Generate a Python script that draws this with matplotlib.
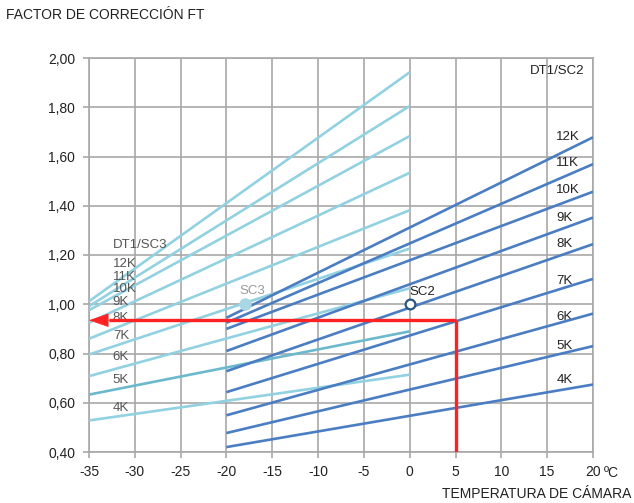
import matplotlib
matplotlib.use("Agg")
import matplotlib.pyplot as plt
from matplotlib.ticker import FuncFormatter

plt.rcParams['font.family'] = ['Liberation Sans Narrow', 'Liberation Sans', 'DejaVu Sans']

# ---- data ----
k_labels = ['4K', '5K', '6K', '7K', '8K', '9K', '10K', '11K', '12K']

# DT1/SC3 (light) lines: from -35 to 0 °C
sc3_x = [-35, 0]
sc3_start = [0.528, 0.633, 0.708, 0.796, 0.860, 0.925, 0.976, 0.992, 1.012]
sc3_end = [0.714, 0.890, 1.065, 1.226, 1.382, 1.534, 1.683, 1.805, 1.942]

# DT1/SC2 (dark) lines: from -20 to 20 °C
sc2_x = [-20, 20]
sc2_start = [0.420, 0.477, 0.549, 0.643, 0.728, 0.810, 0.900, 0.925, 0.945]
sc2_end = [0.674, 0.830, 0.962, 1.103, 1.244, 1.352, 1.457, 1.569, 1.678]

# label positions (y values) for K labels
sc3_label_y = [0.578, 0.694, 0.786, 0.870, 0.946, 1.009, 1.060, 1.111, 1.165]
sc2_label_y = [0.691, 0.832, 0.950, 1.095, 1.244, 1.349, 1.463, 1.575, 1.679]

# example reading (red)
red_x = [5, 5, -35]
red_y = [0.40, 0.935, 0.935]

# reference points
sc3_point = (-18, 1.00)
sc2_point = (0, 1.00)

x_ticks = list(range(-35, 21, 5))
y_ticks = [0.40, 0.60, 0.80, 1.00, 1.20, 1.40, 1.60, 1.80, 2.00]

# ---- figure ----
fig = plt.figure(figsize=(6.34, 5.03), dpi=100)
ax = fig.add_axes([89/634, 1 - 452/503, 504/634, 394/503])

light = '#92d1e1'
light_dark = '#6cb8cc'
dark = '#4a7dc2'
gridc = '#a8a8a8'

for i, (s, e) in enumerate(zip(sc3_start, sc3_end)):
    ax.plot(sc3_x, [s, e], color=light_dark if k_labels[i] == '5K' else light,
            lw=1.9, solid_capstyle='butt', zorder=3)
for s, e in zip(sc2_start, sc2_end):
    ax.plot(sc2_x, [s, e], color=dark, lw=1.9, solid_capstyle='butt', zorder=4)

# red reading lines
ax.plot(red_x[:2], red_y[:2], color='#ff2222', lw=2.4, zorder=5, solid_capstyle='butt')
ax.plot([red_x[1], red_x[2] + 2.2], red_y[1:], color='#ff2222', lw=2.4, zorder=5,
        solid_capstyle='butt')
ax.annotate('', xy=(red_x[2], red_y[2]), xytext=(red_x[2] + 2.6, red_y[2]),
            arrowprops=dict(arrowstyle='-|>,head_length=1.3,head_width=0.45',
                            color='#ff2222', lw=0.5, shrinkA=0, shrinkB=0),
            zorder=6)

# points
ax.plot(*sc3_point, 'o', ms=8, color='#a9d7e6', mec='#a9d7e6', zorder=7)
ax.plot(*sc2_point, 'o', ms=7, mfc='white', mec='#2d5582', mew=1.6, zorder=7)

# text labels
lab_kw = dict(fontsize=9.5, va='center')
for lab, y in zip(k_labels, sc3_label_y):
    ax.text(-32.4, y, lab, ha='left', color='#555555', **lab_kw)
for lab, y in zip(k_labels, sc2_label_y):
    ax.text(16.0, y, lab, ha='left', color='#222222', **lab_kw)
ax.text(-32.4, 1.24, 'DT1/SC3', ha='left', color='#555555', **lab_kw)
ax.text(19.1, 1.948, 'DT1/SC2', ha='right', color='#222222', **lab_kw)
ax.text(-17.2, 1.055, 'SC3', ha='center', color='#999999', **lab_kw)
ax.text(0.0, 1.048, 'SC2', ha='left', color='#222222', **lab_kw)

# axes styling
ax.set_xlim(-35, 20)
ax.set_ylim(0.40, 2.00)
ax.set_xticks(x_ticks)
ax.set_yticks(y_ticks)
ax.xaxis.set_major_formatter(FuncFormatter(lambda v, p: f'{int(v)}'))
ax.yaxis.set_major_formatter(FuncFormatter(lambda v, p: f'{v:.2f}'.replace('.', ',')))
ax.grid(True, color=gridc, lw=1.2, zorder=0)
ax.set_axisbelow(True)
for sp in ax.spines.values():
    sp.set_color(gridc)
    sp.set_linewidth(1.2)
ax.tick_params(axis='both', colors=gridc, labelcolor='#222222', labelsize=10,
               length=4, width=1.2, direction='out')
ax.tick_params(axis='x', pad=5)
ax.tick_params(axis='y', pad=6)

fig.text(6/634, 1 - 15/503, 'FACTOR DE CORRECCIÓN FT', ha='left', va='center',
         fontsize=10, color='#222222')
fig.text(611/634, 1 - 473/503, 'ºC', ha='center', va='center', fontsize=10, color='#222222')
fig.text(631/634, 1 - 494/503, 'TEMPERATURA DE CÁMARA', ha='right', va='center',
         fontsize=10, color='#222222')

fig.savefig('out.png', dpi=100)
